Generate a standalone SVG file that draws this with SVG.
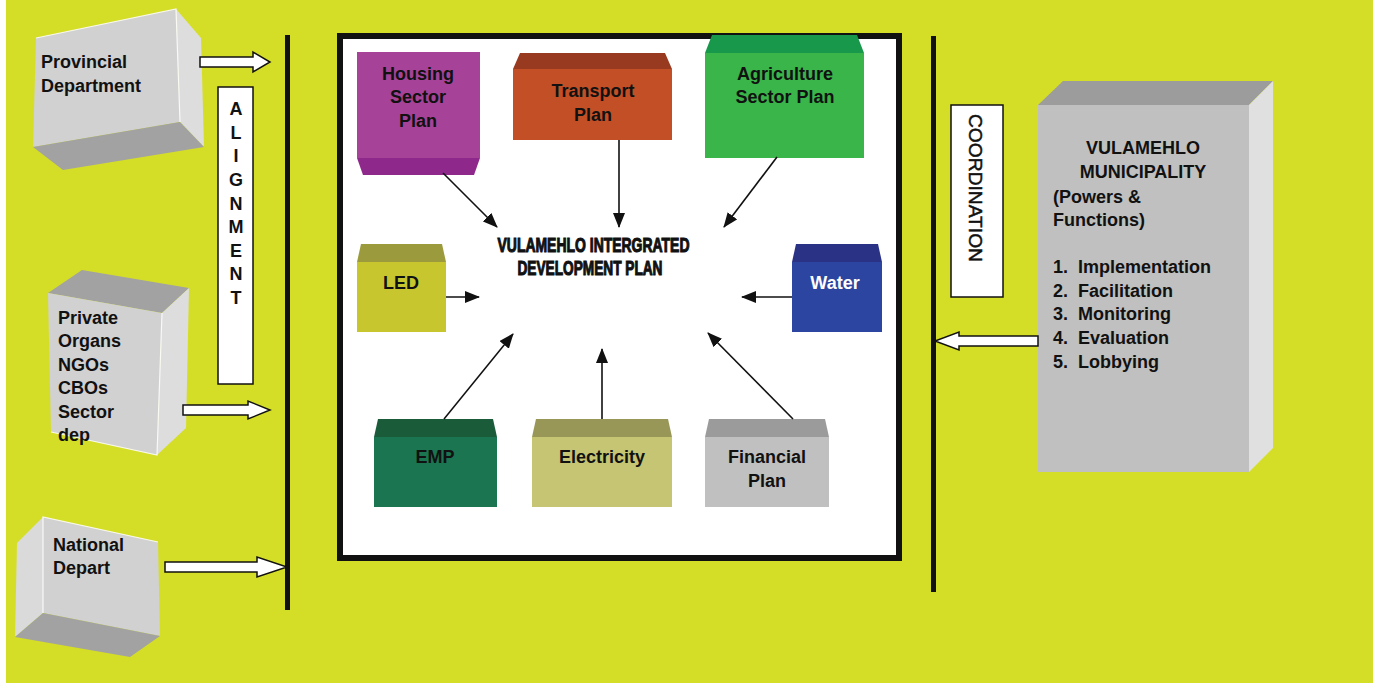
<svg xmlns="http://www.w3.org/2000/svg" width="1373" height="686" viewBox="0 0 1373 686">
<defs>
<style>
.t{font-family:"Liberation Sans",Arial,sans-serif;font-weight:bold;font-size:18px;fill:#111}
.c{text-anchor:middle}
.ba{fill:#fff;stroke:#111;stroke-width:1.5}
.cn{stroke:#111;stroke-width:1.6;fill:none;marker-end:url(#ah)}
.hl{fill:none;stroke:#fff;stroke-width:1.2;opacity:0.85}
</style>
<marker id="ah" markerUnits="userSpaceOnUse" markerWidth="15" markerHeight="12" refX="14" refY="6" orient="auto">
<path d="M0,0 L15,6 L0,12 z" fill="#111"/>
</marker>
</defs>
<rect x="0" y="0" width="1373" height="686" fill="#fff"/>
<rect x="6" y="0" width="1367" height="683" fill="#D5DE26"/>

<!-- left grey boxes -->
<g id="provincial">
<polygon points="36,38 176,9 180,122 33,147" fill="#D1D1D1"/>
<polygon points="176,9 201,38 204,147 180,122" fill="#DDDDDD"/>
<polygon points="33,147 180,122 204,147 63,170" fill="#A2A2A2"/>
<polyline class="hl" points="36,38 176,9 180,122"/>
<text class="t" x="41" y="68">Provincial</text>
<text class="t" x="41" y="92">Department</text>
</g>
<g id="private">
<polygon points="48,293 82,270 189,288 162,313" fill="#A2A2A2"/>
<polygon points="48,293 162,313 157,455 51,432" fill="#D1D1D1"/>
<polygon points="162,313 189,288 186,428 157,455" fill="#DDDDDD"/>
<polyline class="hl" points="51,432 157,455 162,313"/>
<text class="t" x="58" y="324">Private</text>
<text class="t" x="58" y="347">Organs</text>
<text class="t" x="58" y="371">NGOs</text>
<text class="t" x="58" y="394">CBOs</text>
<text class="t" x="58" y="418">Sector</text>
<text class="t" x="58" y="441">dep</text>
</g>
<g id="national">
<polygon points="43,517 17,543 15,637 43,613" fill="#DADADA"/>
<polygon points="43,517 158,542 160,636 43,613" fill="#D1D1D1"/>
<polygon points="15,637 43,613 160,636 130,657" fill="#A2A2A2"/>
<polyline class="hl" points="43,613 43,517 158,542"/>
<text class="t" x="53" y="551">National</text>
<text class="t" x="53" y="574">Depart</text>
</g>

<!-- ALIGNMENT box -->
<g id="alignment">
<rect x="218" y="87" width="35" height="297" fill="#fff" stroke="#111" stroke-width="1.5"/>
<text class="t c" x="236" y="115">A</text>
<text class="t c" x="236" y="139">L</text>
<text class="t c" x="236" y="162">I</text>
<text class="t c" x="236" y="186">G</text>
<text class="t c" x="236" y="210">N</text>
<text class="t c" x="236" y="233">M</text>
<text class="t c" x="236" y="257">E</text>
<text class="t c" x="236" y="280">N</text>
<text class="t c" x="236" y="304">T</text>
</g>

<!-- vertical bars -->
<g id="bars">
<rect x="285" y="35" width="5" height="575" fill="#111"/>
<rect x="931" y="36" width="5" height="556" fill="#111"/>
</g>

<!-- main box -->
<g id="idp-frame">
<rect x="340" y="36" width="559" height="522" fill="#fff" stroke="#111" stroke-width="6"/>
</g>

<g id="housing">
<rect x="357" y="52" width="123" height="106" fill="#A64399"/>
<polygon points="357,158 480,158 474,175 363,175" fill="#8E288A"/>
<text class="t c" x="418" y="80">Housing</text>
<text class="t c" x="418" y="103">Sector</text>
<text class="t c" x="418" y="127">Plan</text>
</g>
<g id="transport">
<polygon points="520,53 665,53 672,69 513,69" fill="#973A20"/>
<rect x="513" y="69" width="159" height="71" fill="#C34F26"/>
<text class="t c" x="593" y="97">Transport</text>
<text class="t c" x="593" y="121">Plan</text>
</g>
<g id="agriculture">
<polygon points="712,35 857,35 864,53 705,53" fill="#17984A"/>
<rect x="705" y="53" width="159" height="105" fill="#39B54A"/>
<text class="t c" x="785" y="80">Agriculture</text>
<text class="t c" x="785" y="103">Sector Plan</text>
</g>
<g id="led">
<polygon points="361,244 442,244 446,262 357,262" fill="#9B9A3D"/>
<rect x="357" y="262" width="89" height="70" fill="#C8C62E"/>
<text class="t c" x="401" y="289">LED</text>
</g>
<g id="water">
<polygon points="796,244 878,244 882,262 792,262" fill="#2A3286"/>
<rect x="792" y="262" width="90" height="70" fill="#2B45A0"/>
<text class="t c" x="835" y="289" style="fill:#fff">Water</text>
</g>
<g id="emp">
<polygon points="378,419 493,419 497,437 374,437" fill="#1A5C3A"/>
<rect x="374" y="437" width="123" height="70" fill="#1A7550"/>
<text class="t c" x="435" y="463">EMP</text>
</g>
<g id="electricity">
<polygon points="536,419 668,419 672,437 532,437" fill="#989758"/>
<rect x="532" y="437" width="140" height="70" fill="#C5C574"/>
<text class="t c" x="602" y="463">Electricity</text>
</g>
<g id="financial">
<polygon points="709,419 825,419 829,437 705,437" fill="#9B9B9B"/>
<rect x="705" y="437" width="124" height="70" fill="#C0C0C0"/>
<text class="t c" x="767" y="463">Financial</text>
<text class="t c" x="767" y="487">Plan</text>
</g>

<g id="idp-title">
<text class="t c" x="593.5" y="252" style="font-size:20px;stroke:#111;stroke-width:1.1" textLength="192" lengthAdjust="spacingAndGlyphs">VULAMEHLO INTERGRATED</text>
<text class="t c" x="590" y="275" style="font-size:20px;stroke:#111;stroke-width:1.1" textLength="145" lengthAdjust="spacingAndGlyphs">DEVELOPMENT PLAN</text>
</g>

<!-- COORDINATION -->
<g id="coordination">
<rect x="951" y="105" width="52" height="192" fill="#fff" stroke="#111" stroke-width="1.5"/>
<text x="0" y="0" transform="translate(969,188) rotate(90)" text-anchor="middle" style="font-family:'Liberation Sans',Arial,sans-serif;font-size:19px;fill:#111;stroke:#111;stroke-width:0.5" textLength="148" lengthAdjust="spacingAndGlyphs">COORDINATION</text>
</g>

<!-- municipality -->
<g id="municipality">
<polygon points="1038,105 1063,81 1273,81 1249,105" fill="#9C9C9C"/>
<rect x="1038" y="105" width="211" height="367" fill="#C0C0C0"/>
<polygon points="1249,105 1273,81 1273,448 1249,472" fill="#E0E0E0"/>
<text class="t c" x="1143" y="154">VULAMEHLO</text>
<text class="t c" x="1143" y="178">MUNICIPALITY</text>
<text class="t" x="1053" y="203">(Powers &amp;</text>
<text class="t" x="1053" y="226">Functions)</text>
<text class="t" y="273"><tspan x="1053">1.</tspan><tspan x="1078">Implementation</tspan></text>
<text class="t" y="297"><tspan x="1053">2.</tspan><tspan x="1078">Facilitation</tspan></text>
<text class="t" y="320"><tspan x="1053">3.</tspan><tspan x="1078">Monitoring</tspan></text>
<text class="t" y="344"><tspan x="1053">4.</tspan><tspan x="1078">Evaluation</tspan></text>
<text class="t" y="368"><tspan x="1053">5.</tspan><tspan x="1078">Lobbying</tspan></text>
</g>

<!-- connectors -->
<g id="connectors">
<polygon class="ba" points="200,57 253,57 253,52 270,62 253,72 253,67 200,67"/>
<polygon class="ba" points="183,405 248,405 248,401 270,410 248,419 248,415 183,415"/>
<polygon class="ba" points="165,562 257,562 257,557 287,567 257,577 257,572 165,572"/>
<polygon class="ba" points="1038,336 959,336 959,332 935,341 959,350 959,346 1038,346"/>
<line class="cn" x1="443" y1="173" x2="497" y2="227"/>
<line class="cn" x1="619" y1="140" x2="619" y2="227"/>
<line class="cn" x1="777" y1="157" x2="724" y2="227"/>
<line class="cn" x1="446" y1="297" x2="479" y2="297"/>
<line class="cn" x1="792" y1="297" x2="742" y2="297"/>
<line class="cn" x1="444" y1="419" x2="513" y2="334"/>
<line class="cn" x1="602" y1="419" x2="602" y2="349"/>
<line class="cn" x1="793" y1="419" x2="708" y2="333"/>
</g>
</svg>
